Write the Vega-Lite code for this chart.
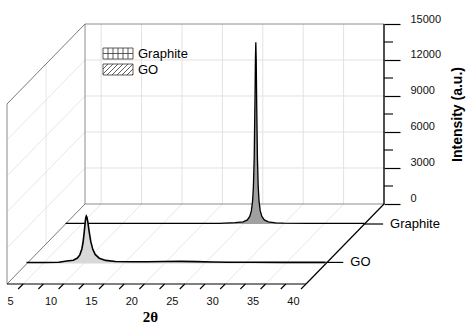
{
  "$schema": "https://vega.github.io/schema/vega-lite/v6.json",
  "width": 377,
  "height": 260,
  "autosize": {"type": "none"},
  "padding": {"left": 7, "top": 24, "right": 90, "bottom": 51},
  "background": "white",
  "config": {"view": {"stroke": null}, "font": "Liberation Sans"},
  "datasets": {
    "graphite": [
      {"t": 3, "i": 60}, {"t": 5, "i": 55}, {"t": 8, "i": 50}, {"t": 12, "i": 45}, {"t": 16, "i": 45},
      {"t": 20, "i": 45}, {"t": 22, "i": 50}, {"t": 24, "i": 110}, {"t": 25, "i": 185}, {"t": 25.5, "i": 345},
      {"t": 25.8, "i": 625}, {"t": 26.0, "i": 1090}, {"t": 26.15, "i": 1910}, {"t": 26.25, "i": 3070},
      {"t": 26.35, "i": 5495}, {"t": 26.45, "i": 10530}, {"t": 26.5, "i": 13676}, {"t": 26.55, "i": 15150},
      {"t": 26.6, "i": 13676}, {"t": 26.65, "i": 10530}, {"t": 26.75, "i": 5495}, {"t": 26.85, "i": 3070},
      {"t": 26.95, "i": 1910}, {"t": 27.1, "i": 1090}, {"t": 27.3, "i": 625}, {"t": 27.6, "i": 345},
      {"t": 28.1, "i": 185}, {"t": 29, "i": 100}, {"t": 30, "i": 70}, {"t": 33, "i": 50}, {"t": 36, "i": 45}, {"t": 40, "i": 45}
    ],
    "go": [
      {"t": 3, "i": 80}, {"t": 5, "i": 85}, {"t": 7, "i": 110}, {"t": 8, "i": 210}, {"t": 8.8, "i": 276},
      {"t": 9.3, "i": 454}, {"t": 9.6, "i": 719}, {"t": 9.85, "i": 1210}, {"t": 10.0, "i": 1770},
      {"t": 10.15, "i": 2650}, {"t": 10.25, "i": 3350}, {"t": 10.33, "i": 3800}, {"t": 10.4, "i": 3950},
      {"t": 10.48, "i": 3854}, {"t": 10.6, "i": 3419}, {"t": 10.75, "i": 2684}, {"t": 10.95, "i": 1842},
      {"t": 11.2, "i": 1181}, {"t": 11.5, "i": 759}, {"t": 12, "i": 443}, {"t": 12.8, "i": 260},
      {"t": 14, "i": 173}, {"t": 16, "i": 140}, {"t": 18, "i": 140}, {"t": 20, "i": 170}, {"t": 22, "i": 180},
      {"t": 24, "i": 160}, {"t": 26, "i": 130}, {"t": 28, "i": 110}, {"t": 31, "i": 100}, {"t": 35, "i": 95}, {"t": 40, "i": 90}
    ]
  },
  "layer": [
    {
      "data": {"values": [{"t": 5}, {"t": 10}, {"t": 15}, {"t": 20}, {"t": 25}, {"t": 30}, {"t": 35}]},
      "mark": {"type": "rule", "color": "#e2e2e2", "strokeWidth": 1},
      "encoding": {
        "x": {"field": "t", "type": "quantitative", "scale": {"domain": [-6.653, 40], "nice": false, "zero": false}, "axis": null},
        "y": {"datum": 0, "type": "quantitative", "scale": {"domain": [-6666.7, 15000], "nice": false, "zero": false}, "axis": null},
        "y2": {"datum": 15000}
      }
    },
    {
      "data": {"values": [{"i": 3000}, {"i": 6000}, {"i": 9000}, {"i": 12000}]},
      "mark": {"type": "rule", "color": "#e2e2e2", "strokeWidth": 1},
      "encoding": {
        "x": {"datum": 3, "type": "quantitative", "scale": {"domain": [-6.653, 40], "nice": false, "zero": false}, "axis": null},
        "x2": {"datum": 40},
        "y": {"field": "i", "type": "quantitative", "scale": {"domain": [-6666.7, 15000], "nice": false, "zero": false},
          "axis": {"orient": "right", "values": [0, 3000, 6000, 9000, 12000, 15000], "tickSize": 16, "tickColor": "#000", "tickWidth": 1.2,
            "domain": false, "grid": false, "labelPadding": 10, "labelFontSize": 11, "labelColor": "#111", "labelAlign": "left",
            "labelBaseline": "middle", "labelOffset": -5, "labelFlush": false, "labelOverlap": false, "format": "d",
            "title": "Intensity (a.u.)", "titleFontSize": 14, "titleFontWeight": "bold", "titleAngle": 270, "titleX": 73, "titleY": 90,
            "titleAlign": "center", "titleBaseline": "middle", "titleColor": "#000"}}
      }
    },
    {
      "data": {"values": [{"t": 5}, {"t": 10}, {"t": 15}, {"t": 20}, {"t": 25}, {"t": 30}, {"t": 35}]},
      "mark": {"type": "rule", "color": "#e6e6e6", "strokeWidth": 1, "x2Offset": 78, "y2Offset": -80},
      "encoding": {
        "x": {"field": "t", "type": "quantitative", "scale": {"domain": [3, 49.653], "nice": false, "zero": false}, "axis": null},
        "x2": {"field": "t"},
        "y": {"datum": 0, "type": "quantitative", "scale": {"domain": [0, 21666.7], "nice": false, "zero": false}, "axis": null},
        "y2": {"datum": 0}
      }
    },
    {
      "data": {"values": [{"i": 3000}, {"i": 6000}, {"i": 9000}, {"i": 12000}]},
      "mark": {"type": "rule", "color": "#e6e6e6", "strokeWidth": 1, "x2Offset": 78, "y2Offset": -80},
      "encoding": {
        "x": {"datum": 3, "type": "quantitative", "scale": {"domain": [3, 49.653], "nice": false, "zero": false}, "axis": null},
        "x2": {"datum": 3},
        "y": {"field": "i", "type": "quantitative", "scale": {"domain": [0, 21666.7], "nice": false, "zero": false}, "axis": null},
        "y2": {"field": "i"}
      }
    },
    {
      "data": {"values": [{}]},
      "mark": {"type": "rule", "color": "#e6e6e6", "strokeWidth": 1, "xOffset": 39, "yOffset": -40, "y2Offset": -40},
      "encoding": {
        "x": {"datum": 3, "type": "quantitative", "scale": {"domain": [3, 49.653], "nice": false, "zero": false}, "axis": null},
        "y": {"datum": 0, "type": "quantitative", "scale": {"domain": [0, 21666.7], "nice": false, "zero": false}, "axis": null},
        "y2": {"datum": 15000}
      }
    },
    {
      "data": {"values": [{}]},
      "mark": {"type": "rect", "fill": "transparent", "stroke": "#8c8c8c", "strokeWidth": 1},
      "encoding": {
        "x": {"datum": 3, "type": "quantitative", "scale": {"domain": [-6.653, 40], "nice": false, "zero": false}, "axis": null},
        "x2": {"datum": 40},
        "y": {"datum": 0, "type": "quantitative", "scale": {"domain": [-6666.7, 15000], "nice": false, "zero": false}, "axis": null},
        "y2": {"datum": 15000}
      }
    },
    {
      "data": {"values": [{}]},
      "mark": {"type": "rule", "color": "#8c8c8c", "strokeWidth": 1},
      "encoding": {
        "x": {"datum": 3, "type": "quantitative", "scale": {"domain": [3, 49.653], "nice": false, "zero": false}, "axis": null},
        "y": {"datum": 0, "type": "quantitative", "scale": {"domain": [0, 21666.7], "nice": false, "zero": false}, "axis": null},
        "y2": {"datum": 15000}
      }
    },
    {
      "data": {"values": [{"i": 0}, {"i": 15000}]},
      "mark": {"type": "rule", "color": "#7a7a7a", "strokeWidth": 1, "x2Offset": 78, "y2Offset": -80},
      "encoding": {
        "x": {"datum": 3, "type": "quantitative", "scale": {"domain": [3, 49.653], "nice": false, "zero": false}, "axis": null},
        "x2": {"datum": 3},
        "y": {"field": "i", "type": "quantitative", "scale": {"domain": [0, 21666.7], "nice": false, "zero": false}, "axis": null},
        "y2": {"field": "i"}
      }
    },
    {
      "data": {"values": [{}]},
      "mark": {"type": "rule", "color": "#000", "strokeWidth": 1.2},
      "encoding": {
        "x": {"datum": 40, "type": "quantitative", "scale": {"domain": [-6.653, 40], "nice": false, "zero": false}, "axis": null},
        "y": {"datum": 0, "type": "quantitative", "scale": {"domain": [-6666.7, 15000], "nice": false, "zero": false}, "axis": null},
        "y2": {"datum": 15000}
      }
    },
    {
      "data": {"values": [{"i": 1500}, {"i": 4500}, {"i": 7500}, {"i": 10500}, {"i": 13500}]},
      "mark": {"type": "rule", "color": "#000", "strokeWidth": 1.1, "x2Offset": 9},
      "encoding": {
        "x": {"datum": 40, "type": "quantitative", "scale": {"domain": [-6.653, 40], "nice": false, "zero": false}, "axis": null},
        "x2": {"datum": 40},
        "y": {"field": "i", "type": "quantitative", "scale": {"domain": [-6666.7, 15000], "nice": false, "zero": false}, "axis": null}
      }
    },
    {
      "data": {"values": [{}]},
      "mark": {"type": "rule", "color": "#000", "strokeWidth": 1.2},
      "encoding": {
        "x": {"datum": 3, "type": "quantitative", "scale": {"domain": [3, 49.653], "nice": false, "zero": false}, "axis": null},
        "x2": {"datum": 40},
        "y": {"datum": 0, "type": "quantitative", "scale": {"domain": [0, 21666.7], "nice": false, "zero": false}, "axis": null}
      }
    },
    {
      "data": {"values": [{}]},
      "mark": {"type": "rule", "color": "#000", "strokeWidth": 1.2, "x2Offset": 78, "y2Offset": -80},
      "encoding": {
        "x": {"datum": 40, "type": "quantitative", "scale": {"domain": [3, 49.653], "nice": false, "zero": false}, "axis": null},
        "x2": {"datum": 40},
        "y": {"datum": 0, "type": "quantitative", "scale": {"domain": [0, 21666.7], "nice": false, "zero": false}, "axis": null},
        "y2": {"datum": 0}
      }
    },
    {
      "data": {"values": [{"t": 5}, {"t": 7.5}, {"t": 10}, {"t": 12.5}, {"t": 15}, {"t": 17.5}, {"t": 20}, {"t": 22.5}, {"t": 25}, {"t": 27.5}, {"t": 30}, {"t": 32.5}, {"t": 35}, {"t": 37.5}, {"t": 40}]},
      "mark": {"type": "rule", "color": "#000", "strokeWidth": 1.1, "x2Offset": -5, "y2Offset": 5},
      "encoding": {
        "x": {"field": "t", "type": "quantitative", "scale": {"domain": [3, 49.653], "nice": false, "zero": false},
          "axis": {"orient": "bottom", "values": [5, 10, 15, 20, 25, 30, 35, 40], "ticks": false, "tickSize": 0, "domain": false, "grid": false,
            "labelPadding": 11, "labelOffset": -13, "labelFontSize": 11, "labelColor": "#111", "labelFlush": false, "labelOverlap": false,
            "title": "2θ", "titleFont": "Liberation Serif", "titleFontSize": 15, "titleFontWeight": "bold", "titleX": 143, "titleY": 32,
            "titleAlign": "center", "titleBaseline": "middle", "titleColor": "#000"}},
        "x2": {"field": "t"},
        "y": {"datum": 0, "type": "quantitative", "scale": {"domain": [0, 21666.7], "nice": false, "zero": false}, "axis": null},
        "y2": {"datum": 0}
      }
    },
    {
      "data": {"name": "graphite"},
      "mark": {"type": "area", "color": "#a0a0a0"},
      "encoding": {
        "x": {"field": "t", "type": "quantitative", "scale": {"domain": [-4.24, 42.413], "nice": false, "zero": false}, "axis": null},
        "y": {"field": "i", "type": "quantitative", "scale": {"domain": [-5000, 16666.7], "nice": false, "zero": false}, "axis": null},
        "y2": {"datum": 0}
      }
    },
    {
      "data": {"name": "graphite"},
      "mark": {"type": "line", "color": "#000", "strokeWidth": 1.3},
      "encoding": {
        "x": {"field": "t", "type": "quantitative", "scale": {"domain": [-4.24, 42.413], "nice": false, "zero": false}, "axis": null},
        "y": {"field": "i", "type": "quantitative", "scale": {"domain": [-5000, 16666.7], "nice": false, "zero": false}, "axis": null}
      }
    },
    {
      "data": {"values": [{}]},
      "mark": {"type": "rule", "color": "#000", "strokeWidth": 1.2},
      "encoding": {
        "x": {"datum": 40, "type": "quantitative", "scale": {"domain": [-4.24, 42.413], "nice": false, "zero": false}, "axis": null},
        "x2": {"datum": 42.3},
        "y": {"datum": 0, "type": "quantitative", "scale": {"domain": [-5000, 16666.7], "nice": false, "zero": false}, "axis": null}
      }
    },
    {
      "data": {"values": [{}]},
      "mark": {"type": "text", "text": "Graphite", "align": "left", "baseline": "middle", "dx": 7, "fontSize": 13, "color": "#000"},
      "encoding": {
        "x": {"datum": 42.3, "type": "quantitative", "scale": {"domain": [-4.24, 42.413], "nice": false, "zero": false}, "axis": null},
        "y": {"datum": 0, "type": "quantitative", "scale": {"domain": [-5000, 16666.7], "nice": false, "zero": false}, "axis": null}
      }
    },
    {
      "data": {"name": "go"},
      "mark": {"type": "area", "color": "#d8d8d8"},
      "encoding": {
        "x": {"field": "t", "type": "quantitative", "scale": {"domain": [0.587, 47.24], "nice": false, "zero": false}, "axis": null},
        "y": {"field": "i", "type": "quantitative", "scale": {"domain": [-1708, 19958], "nice": false, "zero": false}, "axis": null},
        "y2": {"datum": 0}
      }
    },
    {
      "data": {"name": "go"},
      "mark": {"type": "line", "color": "#000", "strokeWidth": 1.6},
      "encoding": {
        "x": {"field": "t", "type": "quantitative", "scale": {"domain": [0.587, 47.24], "nice": false, "zero": false}, "axis": null},
        "y": {"field": "i", "type": "quantitative", "scale": {"domain": [-1708, 19958], "nice": false, "zero": false}, "axis": null}
      }
    },
    {
      "data": {"values": [{}]},
      "mark": {"type": "rule", "color": "#000", "strokeWidth": 1.2},
      "encoding": {
        "x": {"datum": 40, "type": "quantitative", "scale": {"domain": [0.587, 47.24], "nice": false, "zero": false}, "axis": null},
        "x2": {"datum": 42.2},
        "y": {"datum": 90, "type": "quantitative", "scale": {"domain": [-1708, 19958], "nice": false, "zero": false}, "axis": null}
      }
    },
    {
      "data": {"values": [{}]},
      "mark": {"type": "text", "text": "GO", "align": "left", "baseline": "middle", "dx": 7, "fontSize": 13, "color": "#000"},
      "encoding": {
        "x": {"datum": 42.2, "type": "quantitative", "scale": {"domain": [0.587, 47.24], "nice": false, "zero": false}, "axis": null},
        "y": {"datum": 90, "type": "quantitative", "scale": {"domain": [-1708, 19958], "nice": false, "zero": false}, "axis": null}
      }
    },
    {
      "data": {"values": [{"s": "Graphite"}, {"s": "GO"}]},
      "mark": {"type": "point", "opacity": 0},
      "encoding": {
        "shape": {"field": "s", "type": "nominal",
          "scale": {"domain": ["Graphite", "GO"], "range": [
            "M-2.727,-1H2.727V1H-2.727ZM-1.818,-1V1M-0.909,-1V1M0,-1V1M0.909,-1V1M1.818,-1V1M-2.727,0H2.727",
            "M-2.727,-1H2.727V1H-2.727ZM-2.727,-0.09L-1.818,-1M-2.727,0.818L-0.909,-1M-2,1L0,-1M-1.091,1L0.909,-1M-0.182,1L1.818,-1M0.727,1L2.727,-1M1.636,1L2.727,-0.09M2.545,1L2.727,0.818"
          ]},
          "legend": {"orient": "none", "legendX": 104.5, "legendY": 23, "title": null, "padding": 0, "symbolSize": 121, "symbolOpacity": 1,
            "symbolStrokeColor": "#333", "symbolFillColor": "white", "symbolStrokeWidth": 0.8, "labelFontSize": 13, "labelColor": "#000",
            "labelOffset": 13.5, "rowPadding": 1}
        }
      }
    }
  ],
  "resolve": {"scale": {"x": "independent", "y": "independent"}}
}
